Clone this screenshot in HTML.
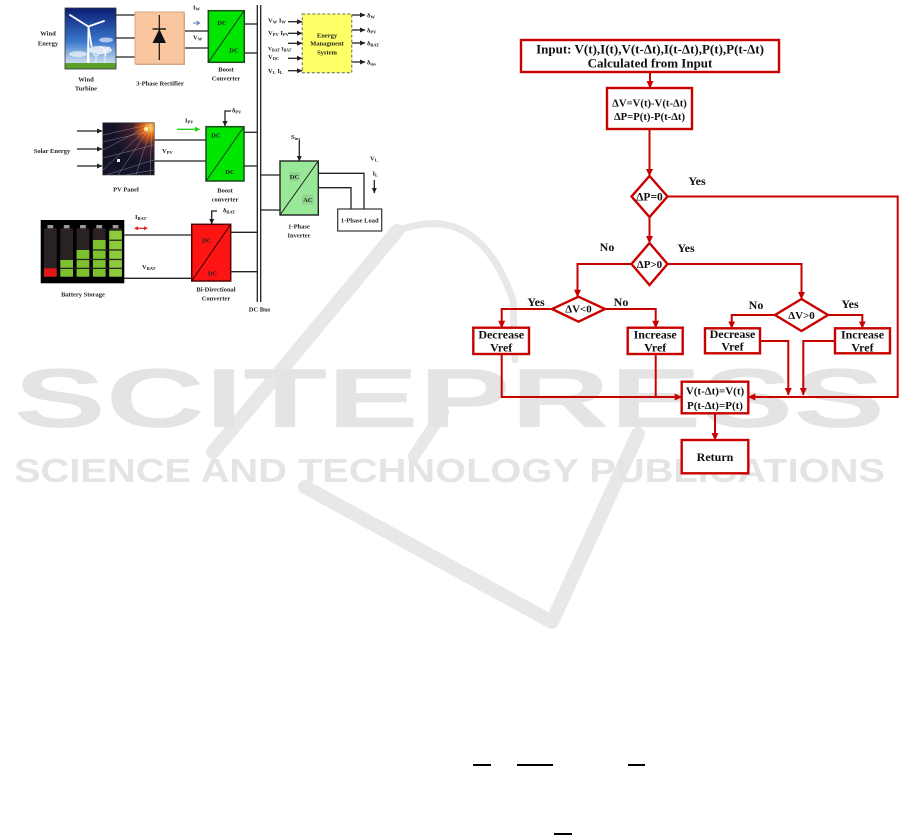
<!DOCTYPE html>
<html><head><meta charset="utf-8">
<style>
html,body{margin:0;padding:0;background:#fff;}
svg{display:block;}
</style></head><body>
<svg width="901" height="835" viewBox="0 0 901 835" xmlns="http://www.w3.org/2000/svg">
<defs>
<marker id="ar" markerWidth="8" markerHeight="8" refX="7" refY="4" orient="auto" markerUnits="userSpaceOnUse"><path d="M0,0.5 L7.5,4 L0,7.5 z" fill="#c80000"/></marker>
<marker id="ak" markerWidth="6" markerHeight="6" refX="5" refY="3" orient="auto" markerUnits="userSpaceOnUse"><path d="M0,0.5 L5.5,3 L0,5.5 z" fill="#222"/></marker>
<linearGradient id="sky" x1="0" y1="0" x2="0" y2="1"><stop offset="0" stop-color="#0a1c72"/><stop offset="0.55" stop-color="#3a78cc"/><stop offset="0.85" stop-color="#b8d0ea"/><stop offset="1" stop-color="#e8eef4"/></linearGradient>
<radialGradient id="sun" cx="0.92" cy="0.1" r="0.7"><stop offset="0" stop-color="#ffd040"/><stop offset="0.2" stop-color="#e06010"/><stop offset="0.5" stop-color="#402030"/><stop offset="1" stop-color="#141428"/></radialGradient>
</defs>

<!-- watermark -->
<g fill="none" stroke="#e8e8e8" stroke-linecap="round" stroke-linejoin="round">
<path d="M213,452 L397,231" stroke-width="14"/>
<path d="M397,231 Q478,200 513,300 L515,360" stroke-width="7"/>
<path d="M414,456 L443,412" stroke-width="12"/>
<path d="M305,487 L552,622 L638,434" stroke-width="14"/>
</g>
<text x="14" y="427" font-family="Liberation Sans, sans-serif" font-weight="bold" font-size="84" fill="#e4e4e4" textLength="871" lengthAdjust="spacingAndGlyphs">SCITEPRESS</text>
<text x="14" y="482" font-family="Liberation Sans, sans-serif" font-weight="bold" font-size="33.5" fill="#e4e4e4" textLength="871" lengthAdjust="spacingAndGlyphs">SCIENCE AND TECHNOLOGY PUBLICATIONS</text>

<!-- ============ LEFT SYSTEM DIAGRAM ============ -->
<g stroke="#222" stroke-width="1.3" fill="none">
<!-- DC bus -->
<line x1="257.3" y1="5" x2="257.3" y2="302"/>
<line x1="260.7" y1="5" x2="260.7" y2="302"/>
<!-- wind to rectifier -->
<line x1="116" y1="15" x2="135" y2="15"/>
<line x1="116" y1="38" x2="135" y2="38"/>
<line x1="116" y1="57" x2="135" y2="57"/>
<!-- rectifier to boost -->
<line x1="184" y1="31" x2="208" y2="31"/>
<line x1="184" y1="48" x2="208" y2="48"/>
<!-- boost1 to bus -->
<line x1="244" y1="24" x2="257" y2="24"/>
<line x1="244" y1="53" x2="257" y2="53"/>
<!-- EMS inputs -->
<line x1="288" y1="21.7" x2="302" y2="21.7" marker-end="url(#ak)"/>
<line x1="288" y1="33.3" x2="302" y2="33.3" marker-end="url(#ak)"/>
<line x1="288" y1="43.3" x2="302" y2="43.3" marker-end="url(#ak)"/>
<line x1="288" y1="58.3" x2="302" y2="58.3" marker-end="url(#ak)"/>
<line x1="288" y1="70.7" x2="302" y2="70.7" marker-end="url(#ak)"/>
<!-- EMS outputs -->
<line x1="352" y1="15" x2="365" y2="15" marker-end="url(#ak)"/>
<line x1="352" y1="30" x2="365" y2="30" marker-end="url(#ak)"/>
<line x1="352" y1="43" x2="365" y2="43" marker-end="url(#ak)"/>
<line x1="352" y1="62" x2="365" y2="62" marker-end="url(#ak)"/>
<!-- solar arrows -->
<line x1="77" y1="131" x2="102" y2="131" marker-end="url(#ak)"/>
<line x1="77" y1="149" x2="102" y2="149" marker-end="url(#ak)"/>
<line x1="77" y1="166" x2="102" y2="166" marker-end="url(#ak)"/>
<!-- panel to boost2 -->
<line x1="154" y1="140" x2="206" y2="140"/>
<line x1="154" y1="161" x2="206" y2="161"/>
<!-- boost2 to bus -->
<line x1="244" y1="132.3" x2="257" y2="132.3"/>
<line x1="244" y1="166" x2="257" y2="166"/>
<!-- delta PV control -->
<polyline points="231,111 225,111 225,126" marker-end="url(#ak)"/>
<!-- bus to inverter -->
<line x1="261" y1="175" x2="280" y2="175"/>
<line x1="261" y1="210" x2="280" y2="210"/>
<!-- S inv -->
<line x1="299.3" y1="140" x2="299.3" y2="161" marker-end="url(#ak)"/>
<!-- inverter to load -->
<polyline points="318,173.3 364,173.3 364,209"/>
<polyline points="318,187.7 351,187.7 351,209"/>
<!-- IL arrow -->
<line x1="374.3" y1="180" x2="374.3" y2="193" marker-end="url(#ak)"/>
<!-- battery to bidir -->
<line x1="124.3" y1="235" x2="191.7" y2="235"/>
<line x1="124.3" y1="278.3" x2="191.7" y2="278.3"/>
<!-- bidir to bus -->
<line x1="230.7" y1="232.3" x2="257" y2="232.3"/>
<line x1="230.7" y1="271.7" x2="257" y2="271.7"/>
<!-- delta BAT control -->
<polyline points="217,211 211.7,211 211.7,224" marker-end="url(#ak)"/>
</g>
<!-- colored arrows -->
<line x1="193" y1="23" x2="199" y2="23" stroke="#5070c0" stroke-width="1"/>
<path d="M196.5,21 L199.5,23 L196.5,25" fill="none" stroke="#5070c0" stroke-width="1"/>
<line x1="177" y1="129.3" x2="197" y2="129.3" stroke="#20d020" stroke-width="1.3"/>
<path d="M195,126.8 L200.5,129.3 L195,131.8 z" fill="#20d020"/>
<line x1="136" y1="228.3" x2="146" y2="228.3" stroke="#e02020" stroke-width="1.2"/>
<path d="M138,226.3 L134,228.3 L138,230.3 z M144,226.3 L148,228.3 L144,230.3 z" fill="#e02020"/>

<!-- wind turbine picture -->
<rect x="65" y="8" width="51" height="61" fill="url(#sky)"/>
<ellipse cx="100" cy="50" rx="12" ry="4" fill="#fff" opacity="0.75"/>
<ellipse cx="78" cy="54" rx="9" ry="3" fill="#fff" opacity="0.6"/>
<ellipse cx="106" cy="40" rx="7" ry="2.5" fill="#fff" opacity="0.6"/>
<rect x="65" y="63" width="51" height="6" fill="#5aa02a"/>
<polygon points="87.6,27 89,27 89.5,63 87,63" fill="#fff"/>
<g stroke="#fff" stroke-width="1.8" stroke-linecap="round">
<line x1="88.3" y1="26.5" x2="70" y2="15"/>
<line x1="88.3" y1="26.5" x2="104" y2="21"/>
<line x1="88.3" y1="26.5" x2="91.5" y2="46"/>
</g>
<g stroke="#fff" stroke-width="0.8">
<line x1="105" y1="50" x2="105" y2="63"/><line x1="105" y1="50" x2="100" y2="46"/><line x1="105" y1="50" x2="110" y2="47"/><line x1="105" y1="50" x2="106" y2="56"/>
<line x1="96" y1="56" x2="96" y2="63"/><line x1="96" y1="56" x2="93" y2="54"/><line x1="96" y1="56" x2="99" y2="54"/>
</g>
<rect x="65" y="8" width="51" height="61" fill="none" stroke="#333" stroke-width="0.8"/>

<!-- rectifier -->
<rect x="136" y="13" width="49" height="52" fill="#c8a088"/>
<rect x="135" y="12" width="49" height="52" fill="#f9c6a0" stroke="#d8a888" stroke-width="1"/>
<line x1="159.3" y1="15" x2="159.3" y2="60" stroke="#111" stroke-width="1.2"/>
<line x1="152.5" y1="29" x2="166" y2="29" stroke="#111" stroke-width="1.4"/>
<polygon points="159.3,29 152.5,43 166,43" fill="#111"/>

<!-- boost 1 -->
<rect x="208.3" y="10.7" width="36" height="51.6" fill="#00e600" stroke="#1c4a1c" stroke-width="1.5"/>
<line x1="208.3" y1="62.3" x2="244.3" y2="10.7" stroke="#1c3a1c" stroke-width="1"/>

<!-- EMS -->
<rect x="302.3" y="14" width="49.4" height="58.7" fill="#ffff66" stroke="#8a8a6a" stroke-width="1.3" stroke-dasharray="3,2"/>

<!-- PV panel -->
<rect x="102.7" y="122.7" width="51.6" height="52.3" fill="url(#sun)"/>
<g stroke="#d8d8e8" stroke-width="0.5" opacity="0.55">
<line x1="152" y1="124" x2="103" y2="150"/>
<line x1="152" y1="124" x2="103" y2="170"/>
<line x1="152" y1="124" x2="118" y2="175"/>
<line x1="152" y1="124" x2="136" y2="175"/>
<line x1="152" y1="124" x2="150" y2="175"/>
<line x1="152" y1="124" x2="103" y2="135"/>
<line x1="103" y1="142" x2="154" y2="130"/>
<line x1="103" y1="158" x2="154" y2="145"/>
<line x1="106" y1="175" x2="154" y2="160"/>
<line x1="125" y1="175" x2="154" y2="170"/>
</g>
<rect x="117" y="159" width="3" height="3" fill="#f0f0f0"/>
<circle cx="146" cy="129" r="2" fill="#fff0a0"/>
<rect x="102.7" y="122.7" width="51.6" height="52.3" fill="none" stroke="#444" stroke-width="0.6"/>

<!-- boost 2 -->
<rect x="206" y="126.7" width="38" height="54.3" fill="#00e600" stroke="#1c4a1c" stroke-width="1.5"/>
<line x1="206" y1="181" x2="244" y2="126.7" stroke="#1c3a1c" stroke-width="1"/>

<!-- inverter -->
<rect x="280" y="161" width="38.3" height="54" fill="#98e898" stroke="#222" stroke-width="1.4"/>
<rect x="289" y="171.7" width="11" height="10" fill="#8ad88a" stroke="#b0d8b0" stroke-width="0.6"/>
<rect x="301.7" y="194.3" width="12.3" height="10.7" fill="#8ad88a" stroke="#b0d8b0" stroke-width="0.6"/>
<line x1="280" y1="215" x2="318.3" y2="161" stroke="#222" stroke-width="1"/>

<!-- load -->
<rect x="337.7" y="209" width="44" height="22" fill="#fff" stroke="#333" stroke-width="1.2"/>

<!-- battery -->
<rect x="40.7" y="220" width="83.6" height="63.3" fill="#000"/>
<g>
<rect x="47.5" y="225" width="5.7" height="3.6" fill="#999"/>
<rect x="63.8" y="225" width="5.7" height="3.6" fill="#999"/>
<rect x="80.1" y="225" width="5.7" height="3.6" fill="#999"/>
<rect x="96.4" y="225" width="5.7" height="3.6" fill="#999"/>
<rect x="112.7" y="225" width="5.7" height="3.6" fill="#999"/>
<rect x="44" y="228.3" width="12.7" height="48.4" rx="1.5" fill="#2a2222"/>
<rect x="60.3" y="228.3" width="12.7" height="48.4" rx="1.5" fill="#2a2222"/>
<rect x="76.6" y="228.3" width="12.7" height="48.4" rx="1.5" fill="#2a2222"/>
<rect x="92.9" y="228.3" width="12.7" height="48.4" rx="1.5" fill="#2a2222"/>
<rect x="109.2" y="228.3" width="12.7" height="48.4" rx="1.5" fill="#2a2222"/>
<rect x="44" y="268.3" width="12.7" height="8.4" fill="#e01818"/>
<rect x="60.3" y="260" width="12.7" height="16.7" fill="#7cc030"/>
<rect x="76.6" y="250" width="12.7" height="26.7" fill="#7cc030"/>
<rect x="92.9" y="240" width="12.7" height="36.7" fill="#7cc030"/>
<rect x="109.2" y="230.7" width="12.7" height="46" fill="#8ccc3a"/>
<g fill="#2a2222">
<rect x="60" y="267.7" width="62" height="1.3"/>
<rect x="76" y="258.8" width="46" height="1.3"/>
<rect x="92" y="249.3" width="30" height="1.3"/>
<rect x="108" y="239.6" width="14" height="1.3"/>
</g>
</g>

<!-- bidirectional -->
<rect x="191.7" y="224.3" width="39" height="56.7" fill="#ff1414" stroke="#5a0000" stroke-width="1.5"/>
<line x1="191.7" y1="281" x2="230.7" y2="224.3" stroke="#300" stroke-width="1"/>

<!-- left text -->
<g font-family="Liberation Serif, serif" font-weight="bold" font-size="6.5" fill="#222" text-anchor="middle">
<text x="48" y="35.6">Wind</text>
<text x="48" y="45.3">Energy</text>
<text x="86" y="81.3">Wind</text>
<text x="86" y="90.3">Turbine</text>
<text x="160" y="85.6">3-Phase Rectifier</text>
<text x="226" y="71.3">Boost</text>
<text x="226" y="80.6">Converter</text>
<text x="222" y="25">DC</text>
<text x="234" y="52.3">DC</text>
<text x="327" y="37.3">Energy</text>
<text x="327" y="45.6">Managment</text>
<text x="327" y="54.6">System</text>
<text x="52" y="153">Solar Energy</text>
<text x="126" y="191.6">PV Panel</text>
<text x="216" y="137.3">DC</text>
<text x="230" y="174">DC</text>
<text x="225" y="192.3">Boost</text>
<text x="225" y="201.3">converter</text>
<text x="294.5" y="179">DC</text>
<text x="307.8" y="202">AC</text>
<text x="299" y="228.3">1-Phase</text>
<text x="299" y="237.3">Inverter</text>
<text x="359.7" y="222.3">1-Phase Load</text>
<text x="83" y="296.6">Battery Storage</text>
<text x="206.7" y="242.3">DC</text>
<text x="212.7" y="275.6">DC</text>
<text x="216" y="291.6">Bi-Directional</text>
<text x="216" y="300.6">Converter</text>
<text x="259.5" y="311.6">DC Bus</text>
</g>
<g font-family="Liberation Serif, serif" font-weight="bold" font-size="6.5" fill="#222">
<text x="193" y="9.6">I<tspan font-size="4.5" dy="1">W</tspan></text>
<text x="193" y="39.6">V<tspan font-size="4.5" dy="1">W</tspan></text>
<text x="268" y="22.3">V<tspan font-size="4.5" dy="1">W</tspan><tspan dy="-1"> I</tspan><tspan font-size="4.5" dy="1">W</tspan></text>
<text x="268" y="35">V<tspan font-size="4.5" dy="1">PV</tspan><tspan dy="-1"> I</tspan><tspan font-size="4.5" dy="1">PV</tspan></text>
<text x="268" y="50.3" font-size="5.5">V<tspan font-size="4" dy="1">BAT</tspan><tspan dy="-1"> I</tspan><tspan font-size="4" dy="1">BAT</tspan></text>
<text x="268" y="59">V<tspan font-size="4.5" dy="1">DC</tspan></text>
<text x="268" y="73">V<tspan font-size="4.5" dy="1">L</tspan><tspan dy="-1"> I</tspan><tspan font-size="4.5" dy="1">L</tspan></text>
<text x="367" y="17.3">δ<tspan font-size="4.5" dy="1">W</tspan></text>
<text x="367" y="32.3">δ<tspan font-size="4.5" dy="1">PV</tspan></text>
<text x="367" y="45.6">δ<tspan font-size="4.5" dy="1">BAT</tspan></text>
<text x="367" y="64.6">δ<tspan font-size="4.5" dy="1">inv</tspan></text>
<text x="185" y="122.3">I<tspan font-size="4.5" dy="1">PV</tspan></text>
<text x="162" y="153">V<tspan font-size="4.5" dy="1">PV</tspan></text>
<text x="232" y="112.3">δ<tspan font-size="4.5" dy="1">PV</tspan></text>
<text x="291" y="139">S<tspan font-size="4.5" dy="1">inv</tspan></text>
<text x="370" y="160.6">V<tspan font-size="4.5" dy="1">L</tspan></text>
<text x="372.5" y="175.6">I<tspan font-size="4.5" dy="1">L</tspan></text>
<text x="135" y="219">I<tspan font-size="4.5" dy="1">BAT</tspan></text>
<text x="142" y="269">V<tspan font-size="4.5" dy="1">BAT</tspan></text>
<text x="223" y="212.3">δ<tspan font-size="4.5" dy="1">BAT</tspan></text>
</g>

<!-- ============ FLOWCHART ============ -->
<g fill="none" stroke="#c80000" stroke-width="2">
<line x1="650" y1="72" x2="650" y2="88" marker-end="url(#ar)"/>
<line x1="649.5" y1="129" x2="649.5" y2="176" marker-end="url(#ar)"/>
<line x1="649.5" y1="217" x2="649.5" y2="243" marker-end="url(#ar)"/>
<polyline points="631.5,264 577.5,264 577.5,296.7" marker-end="url(#ar)"/>
<polyline points="667.5,264 801.5,264 801.5,299" marker-end="url(#ar)"/>
<polyline points="552,309 501.7,309 501.7,327.7" marker-end="url(#ar)"/>
<polyline points="605,309 655.7,309 655.7,327.7" marker-end="url(#ar)"/>
<polyline points="775,315 731.7,315 731.7,328.3" marker-end="url(#ar)"/>
<polyline points="828,315 862.3,315 862.3,328.3" marker-end="url(#ar)"/>
<polyline points="501.7,354 501.7,397 681.7,397" marker-end="url(#ar)"/>
<line x1="655.7" y1="354" x2="655.7" y2="397"/>
<polyline points="760,341 788.3,341 788.3,395" marker-end="url(#ar)"/>
<polyline points="835,341 803.3,341 803.3,395" marker-end="url(#ar)"/>
<polyline points="667.5,196.5 897.7,196.5 897.7,397 748.3,397" marker-end="url(#ar)"/>
<line x1="715" y1="413.3" x2="715" y2="440" marker-end="url(#ar)"/>
</g>
<g fill="#fff" stroke="#c80000" stroke-width="2.4">
<rect x="521" y="40" width="258" height="32"/>
<rect x="607" y="88" width="85" height="41"/>
<polygon points="649.5,176 667.5,196.5 649.5,217 631.5,196.5"/>
<polygon points="649.5,243 667.5,264 649.5,285 631.5,264"/>
<polygon points="578.5,296.7 605,309 578.5,321.7 552,309"/>
<polygon points="801.5,299 828,315 801.5,331 775,315"/>
<rect x="473.3" y="327.7" width="55.7" height="26.3"/>
<rect x="627.7" y="327.7" width="55" height="26.3"/>
<rect x="705" y="328.3" width="55" height="25"/>
<rect x="835" y="328.3" width="55" height="25"/>
<rect x="681.7" y="381.7" width="66.6" height="31.6"/>
<rect x="681.7" y="440" width="66.6" height="33.3"/>
</g>
<g font-family="Liberation Serif, serif" font-weight="bold" fill="#111" text-anchor="middle">
<text x="650" y="53.5" font-size="13">Input: V(t),I(t),V(t-Δt),I(t-Δt),P(t),P(t-Δt)</text>
<text x="650" y="67.5" font-size="13">Calculated from Input</text>
<text x="649.5" y="106.5" font-size="10.7">ΔV=V(t)-V(t-Δt)</text>
<text x="649.5" y="120" font-size="10.7">ΔP=P(t)-P(t-Δt)</text>
<text x="649.5" y="200.5" font-size="11.5">ΔP=0</text>
<text x="649.5" y="268.2" font-size="11">ΔP&gt;0</text>
<text x="578.5" y="312.6" font-size="11">ΔV&lt;0</text>
<text x="801.5" y="318.9" font-size="11">ΔV&gt;0</text>
<text x="501.2" y="338.6" font-size="12">Decrease</text>
<text x="501.2" y="351.6" font-size="12">Vref</text>
<text x="655.2" y="338.6" font-size="12">Increase</text>
<text x="655.2" y="351.6" font-size="12">Vref</text>
<text x="732.5" y="338" font-size="12">Decrease</text>
<text x="732.5" y="350.3" font-size="12">Vref</text>
<text x="862.5" y="338.6" font-size="12">Increase</text>
<text x="862.5" y="351.6" font-size="12">Vref</text>
<text x="715" y="394.6" font-size="11">V(t-Δt)=V(t)</text>
<text x="715" y="408.9" font-size="11">P(t-Δt)=P(t)</text>
<text x="715" y="461.2" font-size="12">Return</text>
<text x="697" y="185.2" font-size="12">Yes</text>
<text x="607" y="250.8" font-size="12">No</text>
<text x="686" y="252" font-size="12">Yes</text>
<text x="536" y="305.8" font-size="12">Yes</text>
<text x="621" y="305.8" font-size="12">No</text>
<text x="756" y="309" font-size="12">No</text>
<text x="850" y="308.2" font-size="12">Yes</text>
</g>

<!-- bottom equation bars -->
<g fill="#000">
<rect x="473" y="764" width="18" height="2"/>
<rect x="517" y="764" width="36" height="2"/>
<rect x="628" y="764" width="17" height="2"/>
<rect x="554" y="833" width="18" height="2"/>
</g>
</svg>
</body></html>
